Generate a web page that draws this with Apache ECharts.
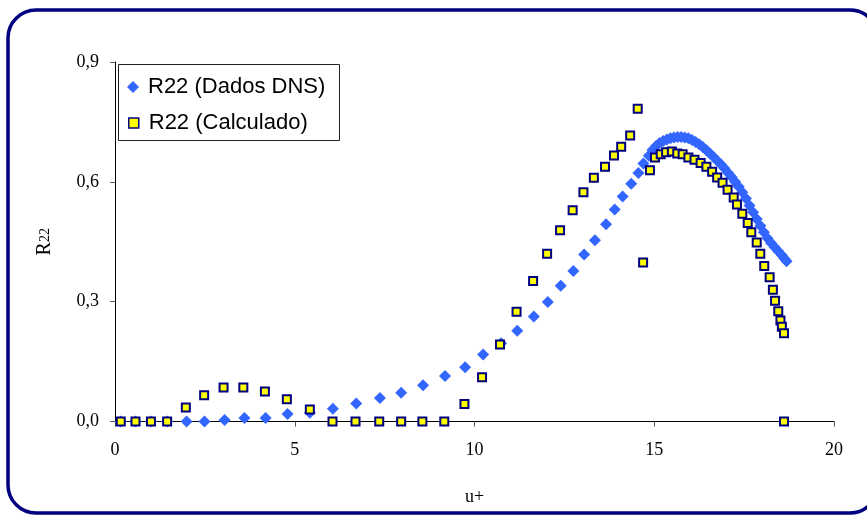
<!DOCTYPE html>
<html>
<head>
<meta charset="utf-8">
<script src="https://cdn.jsdelivr.net/npm/echarts@6/dist/echarts.min.js"></script>
<style>
html,body{margin:0;padding:0;background:#fff;}
#chart{width:867px;height:515px;}
</style>
</head>
<body>
<div id="chart"></div>
<script>
// Data: [u+, R22]
const dnsData = [
  [0.16,0],[0.57,0],[1.0,0],[1.45,0],[1.99,0],[2.49,0],[3.05,0.004],[3.60,0.009],
  [4.19,0.009],[4.80,0.019],[5.42,0.022],[6.06,0.032],[6.71,0.045],[7.37,0.059],
  [7.96,0.072],[8.57,0.091],[9.18,0.114],[9.74,0.136],[10.24,0.168],[10.74,0.196],
  [11.19,0.227],[11.65,0.263],[12.04,0.299],[12.40,0.340],[12.75,0.377],[13.05,0.418],
  [13.35,0.454],[13.66,0.494],[13.90,0.531],[14.12,0.563],[14.36,0.595],[14.56,0.622],
  [14.70,0.646],[14.85,0.665],[14.95,0.680],[15.05,0.690],[15.15,0.697],[15.25,0.702],
  [15.35,0.706],[15.45,0.709],[15.55,0.711],[15.65,0.712],[15.75,0.712],[15.85,0.711],
  [15.95,0.709],[16.05,0.705],[16.15,0.700],[16.25,0.694],[16.35,0.687],[16.45,0.679],
  [16.55,0.671],[16.65,0.662],[16.75,0.653],[16.85,0.644],[16.95,0.634],[17.05,0.623],
  [17.15,0.612],[17.25,0.600],[17.35,0.588],[17.45,0.574],[17.55,0.558],[17.65,0.541],
  [17.75,0.524],[17.85,0.507],[17.95,0.490],[18.05,0.474],[18.15,0.459],[18.25,0.447],
  [18.35,0.436],[18.45,0.426],[18.55,0.416],[18.62,0.408],[18.68,0.401]
];
const calcData = [
  [0.16,0],[0.57,0],[1.0,0],[1.45,0],[1.97,0.035],[2.48,0.066],[3.02,0.085],[3.57,0.085],
  [4.17,0.075],[4.78,0.056],[5.42,0.030],[6.05,0],[6.69,0],[7.35,0],[7.96,0],[8.55,0],
  [9.16,0],[9.72,0.044],[10.21,0.111],[10.71,0.193],[11.17,0.275],[11.63,0.352],
  [12.02,0.420],[12.38,0.479],[12.73,0.529],[13.03,0.574],[13.32,0.610],[13.63,0.638],
  [13.88,0.666],[14.08,0.688],[14.33,0.716],[14.54,0.783],[14.69,0.398],[14.88,0.629],
  [15.02,0.661],[15.18,0.669],[15.33,0.674],[15.49,0.676],[15.64,0.671],[15.79,0.669],
  [15.95,0.661],[16.12,0.655],[16.29,0.647],[16.45,0.638],[16.61,0.625],[16.75,0.611],
  [16.90,0.598],[17.04,0.580],[17.21,0.561],[17.30,0.543],[17.45,0.520],[17.60,0.497],
  [17.70,0.474],[17.85,0.448],[17.95,0.420],[18.06,0.389],[18.21,0.361],[18.30,0.330],
  [18.36,0.302],[18.45,0.276],[18.51,0.253],[18.55,0.237],[18.61,0.221],[18.61,0]
];
const seriesNames = ['R22 (Dados DNS)', 'R22 (Calculado)'];
const xTicks = {min: 0, max: 20, interval: 5};
const yTicks = {min: 0, max: 0.9, interval: 0.3};

const chart = echarts.init(document.getElementById('chart'), null, {renderer: 'canvas'});
const serif = '"Liberation Serif", "Times New Roman", serif';
const legendText = {fontFamily: '"Liberation Sans", Arial, sans-serif', fontSize: 22, color: '#000', lineHeight: 23};
chart.setOption({
  animation: false,
  backgroundColor: '#ffffff',
  graphic: [
    {type: 'rect', z: 100, silent: true,
     shape: {x: 8, y: 10, width: 870, height: 503, r: 28},
     style: {fill: 'none', stroke: '#000080', lineWidth: 3.5}},
    {type: 'rect', z: 50, silent: true,
     shape: {x: 118.5, y: 64.5, width: 221, height: 76},
     style: {fill: '#ffffff', stroke: '#222222', lineWidth: 1}}
  ],
  legend: [
    {
      orient: 'vertical', left: 127, top: 75.5, padding: 0,
      itemWidth: 12, itemHeight: 12, z: 60,
      textStyle: Object.assign({padding: [0, 0, 0, 4]}, legendText),
      data: [{name: seriesNames[0], icon: 'diamond'}]
    },
    {
      orient: 'vertical', left: 128, top: 111.5, padding: 0,
      itemWidth: 10, itemHeight: 10, z: 60,
      textStyle: Object.assign({padding: [0, 0, 0, 5]}, legendText),
      data: [{name: seriesNames[1], icon: 'rect', itemStyle: {borderWidth: 1.5}}]
    }
  ],
  grid: {left: 115, top: 62, right: 33, bottom: 93.5, containLabel: false},
  xAxis: {
    type: 'value', min: xTicks.min, max: xTicks.max, interval: xTicks.interval,
    name: 'u+', nameLocation: 'middle', nameGap: 67,
    nameTextStyle: {fontFamily: serif, fontSize: 18, color: '#000'},
    axisLine: {show: true, onZero: false, lineStyle: {color: '#000', width: 1}},
    axisTick: {show: true, length: 5, lineStyle: {color: '#555'}},
    axisLabel: {fontFamily: serif, fontSize: 18, color: '#000', margin: 20},
    splitLine: {show: false}
  },
  yAxis: {
    type: 'value', min: yTicks.min, max: yTicks.max, interval: yTicks.interval,
    name: '{r|R}{s|22}', nameLocation: 'middle', nameGap: 60, nameRotate: 90,
    nameTextStyle: {fontFamily: serif, color: '#000',
      rich: {r: {fontFamily: serif, fontSize: 20, color: '#000'},
             s: {fontFamily: serif, fontSize: 14, color: '#000'}}},
    axisLine: {show: true, onZero: false, lineStyle: {color: '#000', width: 1}},
    axisTick: {show: true, length: 5, lineStyle: {color: '#555'}},
    axisLabel: {fontFamily: serif, fontSize: 18, color: '#000', margin: 16,
      formatter: v => v.toFixed(1).replace('.', ',')},
    splitLine: {show: false}
  },
  series: [
    {name: seriesNames[0], type: 'scatter', data: dnsData, symbol: 'diamond', symbolSize: 12,
     itemStyle: {color: '#3366ff', opacity: 1}, emphasis: {disabled: true}, z: 2},
    {name: seriesNames[1], type: 'scatter', data: calcData, symbol: 'rect', symbolSize: 8,
     itemStyle: {color: '#ffff00', borderColor: '#000080', borderWidth: 2, opacity: 1},
     emphasis: {disabled: true}, z: 3}
  ]
});
</script>
</body>
</html>
